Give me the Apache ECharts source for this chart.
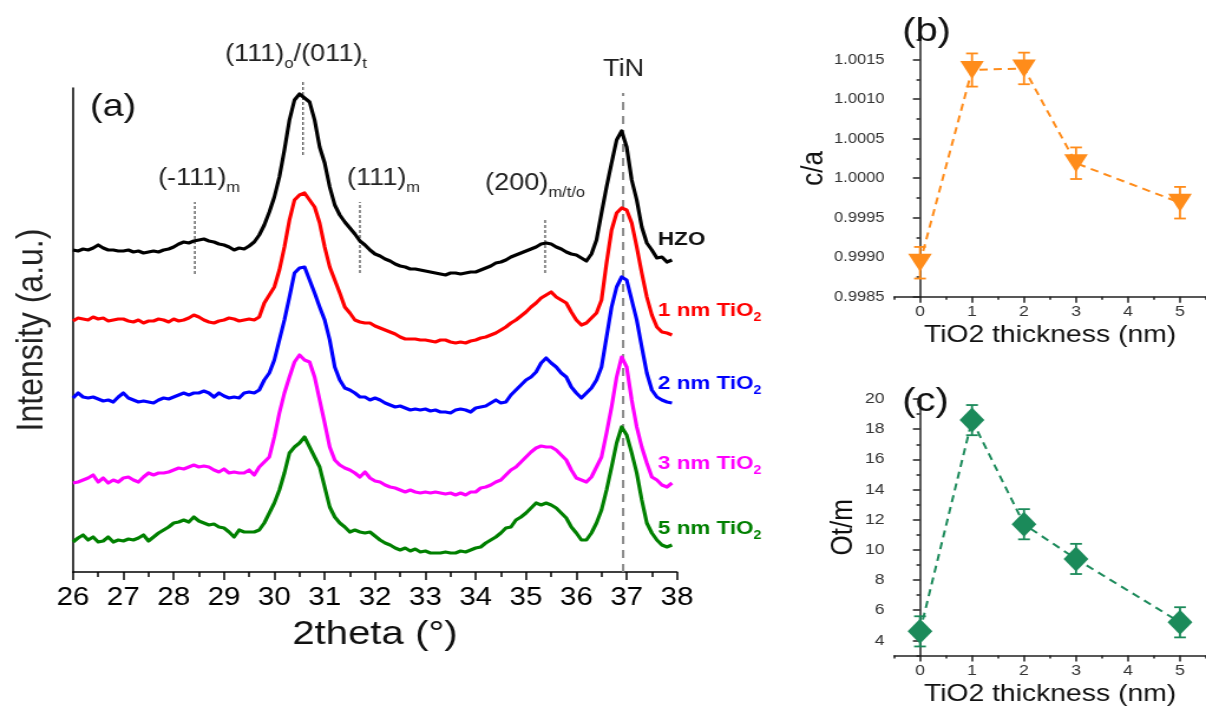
<!DOCTYPE html>
<html><head><meta charset="utf-8">
<script src="https://cdn.jsdelivr.net/npm/echarts@6/dist/echarts.min.js"></script>
<style>
html,body{margin:0;padding:0;background:#fff;overflow:hidden;width:1206px;height:711px}
#c{width:1022px;height:711px;transform:scaleX(1.18004);transform-origin:0 0;}
</style></head>
<body><div id="c"></div>
<script>
// ---------- Panel (a): XRD patterns (offset intensities, a.u.) ----------
const theta = [26.0,26.1,26.2,26.3,26.4,26.5,26.6,26.7,26.8,26.9,
27.0,27.1,27.2,27.3,27.4,27.5,27.6,27.7,27.8,27.9,
28.0,28.1,28.2,28.3,28.4,28.5,28.6,28.7,28.8,28.9,
29.0,29.1,29.2,29.3,29.4,29.5,29.6,29.7,29.8,29.9,
30.0,30.1,30.2,30.3,30.4,30.5,30.6,30.7,30.8,30.9,
31.0,31.1,31.2,31.3,31.4,31.5,31.6,31.7,31.8,31.9,
32.0,32.1,32.2,32.3,32.4,32.5,32.6,32.7,32.8,32.9,
33.0,33.1,33.2,33.3,33.4,33.5,33.6,33.7,33.8,33.9,
34.0,34.1,34.2,34.3,34.4,34.5,34.6,34.7,34.8,34.9,
35.0,35.1,35.2,35.3,35.4,35.5,35.6,35.7,35.8,35.9,
36.0,36.1,36.2,36.3,36.4,36.5,36.6,36.7,36.8,36.9,
37.0,37.1,37.2,37.3,37.4,37.5,37.6,37.7,37.8,37.9];

const hzo = [322,321,323,322,324,327,324,322,322,321,
321,322,320,321,319,320,321,320,322,323,
325,328,330,329,331,332,333,331,330,328,
327,325,322,324,323,326,330,337,347,360,
375,395,422,452,472,478,474,470,452,425,
409,385,367,357,350,344,338,331,327,322,
318,316,313,311,308,306,305,303,303,302,
301,300,299,298,297,299,299,298,299,300,
300,302,304,306,309,310,312,315,317,319,
321,323,325,328,329,328,325,323,320,318,
317,314,311,318,332,359,385,409,432,441,
425,392,372,345,329,322,314,315,310,312];

const tio1 = [251,254,253,252,255,253,254,251,252,253,
253,251,250,252,249,251,251,253,252,250,
253,251,252,254,257,255,252,250,249,251,
252,254,253,251,252,253,252,255,269,277,
285,302,325,352,372,377,379,372,365,349,
325,305,292,279,265,259,252,250,249,249,
246,244,242,240,238,235,233,233,233,232,
232,231,230,232,232,230,229,230,229,231,
232,234,235,237,239,242,245,249,252,256,
260,265,269,274,277,280,275,272,269,260,
252,247,249,254,259,272,309,342,359,364,
362,349,325,299,275,257,245,240,239,237];

const tio2 = [174,179,175,174,175,173,171,172,170,175,
179,174,172,170,171,170,169,172,174,173,
175,177,179,177,179,179,181,179,175,179,
176,174,175,174,179,180,179,182,192,199,
212,232,252,275,299,304,305,292,279,265,
252,232,205,192,184,182,179,175,175,172,
174,172,169,167,165,166,164,162,163,162,
163,161,162,160,160,159,162,163,162,160,
164,165,166,169,172,169,170,177,182,187,
192,195,200,209,214,209,205,199,195,185,
179,174,179,184,192,205,235,265,285,295,
292,272,252,225,199,182,175,172,170,169];

const tio3 = [89,90,92,94,97,90,94,89,92,90,
94,95,92,90,95,99,97,99,99,100,
102,104,103,105,107,105,106,105,102,100,
103,99,100,99,99,102,97,105,110,115,
135,159,179,195,210,217,212,210,195,172,
149,125,112,107,104,102,99,95,100,94,
91,90,87,85,84,82,80,82,80,79,
80,79,80,79,78,79,77,79,77,80,
80,84,85,87,90,92,97,102,105,110,
115,120,124,126,125,125,122,117,112,102,
94,92,90,95,105,115,139,165,195,215,
205,172,145,125,109,95,92,87,85,89];

const tio5 = [30,34,37,32,35,30,31,35,30,32,
31,33,32,34,37,31,35,39,42,45,
49,50,52,50,55,51,49,47,48,45,
44,40,35,42,40,40,40,42,49,59,
69,82,99,119,125,129,135,125,115,105,
85,65,55,49,45,40,42,40,39,40,
36,32,29,27,24,22,24,21,23,20,
21,19,19,19,20,19,19,21,20,22,
24,25,29,32,35,39,44,45,52,55,
59,64,69,67,69,67,64,59,54,45,
39,32,32,39,49,62,82,105,129,145,
137,119,99,72,49,39,32,27,25,27];

const seriesNames = ['HZO','1 nm TiO2','2 nm TiO2','3 nm TiO2','5 nm TiO2'];
const xTicksA = [26,27,28,29,30,31,32,33,34,35,36,37,38];

// reflection marker positions (2theta) and their vertical extents (a.u.)
const peakMarks = [[28.42,298,370],[30.57,417,490],[31.70,299,370],[35.38,299,354]];
const tinMark = [36.93,0,479];

// ---------- Panel (b): c/a ----------
const thick = [0,1,2,3,5];
const ca = [0.99893,1.00137,1.00139,1.00019,0.99969];
const caErr = [0.00020,0.00021,0.00020,0.00020,0.00020];
const caTicks = [0.9985,0.9990,0.9995,1.0000,1.0005,1.0010,1.0015];
const caMinor = [0.99875,0.99925,0.99975,1.00025,1.00075,1.00125,1.00175];

// ---------- Panel (c): Ot/m ----------
const otm = [4.6,18.6,11.7,9.4,5.2];
const otmErr = [1.0,1.0,1.0,1.0,1.0];
const otmTicks = [4,6,8,10,12,14,16,18,20];
const otmMinor = [3,5,7,9,11,13,15,17,19];
const thickTicks = [0,1,2,3,4,5];
const thickMinor = [-0.5,0.5,1.5,2.5,3.5,4.5,5.5];

// ---------- layout helpers ----------
const SX = 1.18004;
const X = px => px / SX;
const FONT = "'Liberation Sans', Arial, sans-serif";
const cv = document.createElement('canvas').getContext('2d');

function richText(xPx, base, parts, F, color, weight) {
  weight = weight || 'normal';
  let x = X(xPx);
  const out = [];
  for (const [s, sub] of parts) {
    const size = sub ? Math.round(F * 0.62) : F;
    const font = weight + ' ' + size + 'px ' + FONT;
    cv.font = font;
    const w = cv.measureText(s).width;
    const yb = sub ? base + 0.28 * F : base;
    out.push({type:'text', x: x, y: yb - 0.35 * size, z: 50,
      style:{text:s, font:font, fill:color, align:'left', verticalAlign:'middle', textAlign:'left', textVerticalAlign:'middle'}});
    x += w;
  }
  return out;
}

const colorsA = ['#000000','#ff0000','#0000ff','#ff00ff','#008000'];
const dataA = [hzo,tio1,tio2,tio3,tio5];
const ORANGE = '#ff8c1a', GREEN = '#1b8a5a';

const series = [];
// TiN reference line
series.push({type:'line', xAxisIndex:0, yAxisIndex:0, clip:false, silent:true, symbol:'none',
  data:[[tinMark[0],tinMark[1]],[tinMark[0],tinMark[2]]],
  lineStyle:{color:'#8a8a8a', width:2, type:[8,6]}, z:1});
peakMarks.forEach(m => series.push({type:'line', xAxisIndex:0, yAxisIndex:0, clip:false, silent:true, symbol:'none',
  data:[[m[0],m[1]],[m[0],m[2]]], lineStyle:{color:'#222', width:1, type:[3,2]}, z:1}));
dataA.forEach((arr,k) => series.push({type:'line', name:seriesNames[k], xAxisIndex:0, yAxisIndex:0,
  showSymbol:false, symbol:'none', data: theta.map((t,i)=>[t,arr[i]]),
  lineStyle:{color:colorsA[k], width:3.2, join:'round'}, itemStyle:{color:colorsA[k]}, z:2}));

function errBar(color) {
  return function(params, api) {
    const x = api.value(0), y = api.value(1), e = api.value(2);
    const p1 = api.coord([x, y + e]), p2 = api.coord([x, y - e]);
    const cw = 5;
    const st = {stroke:color, lineWidth:1.8};
    return {type:'group', children:[
      {type:'line', shape:{x1:p1[0],y1:p1[1],x2:p2[0],y2:p2[1]}, style:st},
      {type:'line', shape:{x1:p1[0]-cw,y1:p1[1],x2:p1[0]+cw,y2:p1[1]}, style:st},
      {type:'line', shape:{x1:p2[0]-cw,y1:p2[1],x2:p2[0]+cw,y2:p2[1]}, style:st}
    ]};
  };
}
series.push({type:'custom', xAxisIndex:1, yAxisIndex:1, renderItem:errBar(ORANGE), encode:{x:0,y:1},
  data: thick.map((t,i)=>[t, ca[i], caErr[i]]), z:3});
series.push({type:'line', xAxisIndex:1, yAxisIndex:1, data: thick.map((t,i)=>[t, ca[i]]),
  symbol:'triangle', symbolRotate:180, symbolSize:[20,18], showSymbol:true,
  lineStyle:{color:ORANGE, width:2, type:[7,5]}, itemStyle:{color:ORANGE}, z:4});
series.push({type:'custom', xAxisIndex:3, yAxisIndex:2, renderItem:errBar(GREEN), encode:{x:0,y:1},
  data: thick.map((t,i)=>[t, otm[i], otmErr[i]]), z:3});
series.push({type:'line', xAxisIndex:3, yAxisIndex:2, data: thick.map((t,i)=>[t, otm[i]]),
  symbol:'diamond', symbolSize:[21,25], showSymbol:true,
  lineStyle:{color:GREEN, width:2, type:[7,5]}, itemStyle:{color:GREEN}, z:4});

const axLine = (c,w) => ({show:true, lineStyle:{color:c, width:w}});
const smallAxisX = (grid, name) => ([
  {type:'value', gridIndex:grid, min:-0.5, max:5.5, position:'bottom',
   axisLine:axLine('#222',1.5),
   axisTick:{show:true, customValues:thickTicks, length:6, lineStyle:{color:'#222', width:1.5}},
   axisLabel:{customValues:thickTicks, fontSize:15, color:'#333', margin:8, fontFamily:FONT},
   splitLine:{show:false},
   name:name, nameLocation:'middle', nameGap:27,
   nameTextStyle:{fontSize:24, color:'#111', fontFamily:FONT}},
  {type:'value', gridIndex:grid, min:-0.5, max:5.5, position:'bottom',
   axisLine:{show:false}, axisLabel:{show:false}, splitLine:{show:false},
   axisTick:{show:true, customValues:thickMinor, length:3, lineStyle:{color:'#222', width:1.5}}}
]);

const option = {
  animation:false,
  backgroundColor:'#ffffff',
  textStyle:{fontFamily:FONT},
  grid:[
    {left:X(73), top:88, width:X(677)-X(73), height:484},
    {left:X(894), top:40, width:X(319), height:256.7},
    {left:X(894), top:399, width:X(319), height:256.5}
  ],
  xAxis:[
    {type:'value', gridIndex:0, min:26, max:38, interval:1,
     axisLine:axLine('#000',1.5),
     axisTick:{show:true, length:8, lineStyle:{color:'#000', width:1.5}},
     minorTick:{show:true, splitNumber:2, length:5, lineStyle:{color:'#000', width:1.5}},
     axisLabel:{fontSize:25, color:'#000', margin:14, fontFamily:FONT,
       formatter: v => xTicksA.indexOf(v) >= 0 ? String(v) : ''},
     splitLine:{show:false},
     name:'2theta (°)', nameLocation:'middle', nameGap:46,
     nameTextStyle:{fontSize:34, color:'#111', fontFamily:FONT}},
    ...smallAxisX(1, 'TiO2 thickness (nm)'),
    ...smallAxisX(2, 'TiO2 thickness (nm)')
  ],
  yAxis:[
    {type:'value', gridIndex:0, min:0, max:484,
     axisLine:axLine('#000',1.5), axisTick:{show:false}, axisLabel:{show:false}, splitLine:{show:false},
     name:'Intensity (a.u.)', nameLocation:'middle', nameGap:19, nameRotate:90,
     nameTextStyle:{fontSize:32, color:'#222', fontFamily:FONT}},
    {type:'value', gridIndex:1, min:0.9985, max:1.00175,
     axisLine:axLine('#222',1.5),
     axisTick:{show:true, customValues:caTicks, length:6, lineStyle:{color:'#222', width:1.5}},
     axisLabel:{customValues:caTicks, fontSize:14, color:'#333', margin:8, fontFamily:FONT,
       formatter: v => Number(v).toFixed(4)},
     splitLine:{show:false},
     name:'c/a', nameLocation:'middle', nameGap:52, nameRotate:90,
     nameTextStyle:{fontSize:26, color:'#111', fontFamily:FONT}},
    {type:'value', gridIndex:2, min:3, max:20,
     axisLine:axLine('#222',1.5),
     axisTick:{show:true, customValues:otmTicks, length:6, lineStyle:{color:'#222', width:1.5}},
     axisLabel:{customValues:otmTicks, fontSize:15, color:'#333', margin:8, fontFamily:FONT},
     splitLine:{show:false},
     name:'Ot/m', nameLocation:'middle', nameGap:30, nameRotate:90,
     nameTextStyle:{fontSize:26, color:'#111', fontFamily:FONT}},
    {type:'value', gridIndex:2, min:3, max:20, position:'left',
     axisLine:{show:false}, axisLabel:{show:false}, splitLine:{show:false},
     axisTick:{show:true, customValues:otmMinor, length:3, lineStyle:{color:'#222', width:1.5}}},
    {type:'value', gridIndex:1, min:0.9985, max:1.00175, position:'left',
     axisLine:{show:false}, axisLabel:{show:false}, splitLine:{show:false},
     axisTick:{show:true, customValues:caMinor, length:3, lineStyle:{color:'#222', width:1.5}}}
  ],
  series: series,
  graphic: [].concat(
    richText(90, 118, [['(a)',0]], 32, '#111'),
    richText(902, 44, [['(b)',0]], 34, '#111'),
    richText(902, 414, [['(c)',0]], 34, '#111'),
    richText(225, 63, [['(111)',0],['o',1],['/(011)',0],['t',1]], 23, '#222'),
    richText(158, 187, [['(-111)',0],['m',1]], 23, '#222'),
    richText(347, 187, [['(111)',0],['m',1]], 23, '#222'),
    richText(485, 192, [['(200)',0],['m/t/o',1]], 23, '#222'),
    richText(603, 78, [['TiN',0]], 23, '#222'),
    richText(658, 246, [['HZO',0]], 19, '#111', 'bold'),
    richText(658, 317, [['1 nm TiO',0],['2',1]], 19, '#ff0000', 'bold'),
    richText(658, 390, [['2 nm TiO',0],['2',1]], 19, '#0000ff', 'bold'),
    richText(658, 470, [['3 nm TiO',0],['2',1]], 19, '#ff00ff', 'bold'),
    richText(658, 535, [['5 nm TiO',0],['2',1]], 19, '#008000', 'bold')
  )
};
const chart = echarts.init(document.getElementById('c'), null, {renderer:'canvas'});
chart.setOption(option);
</script>
</body></html>
